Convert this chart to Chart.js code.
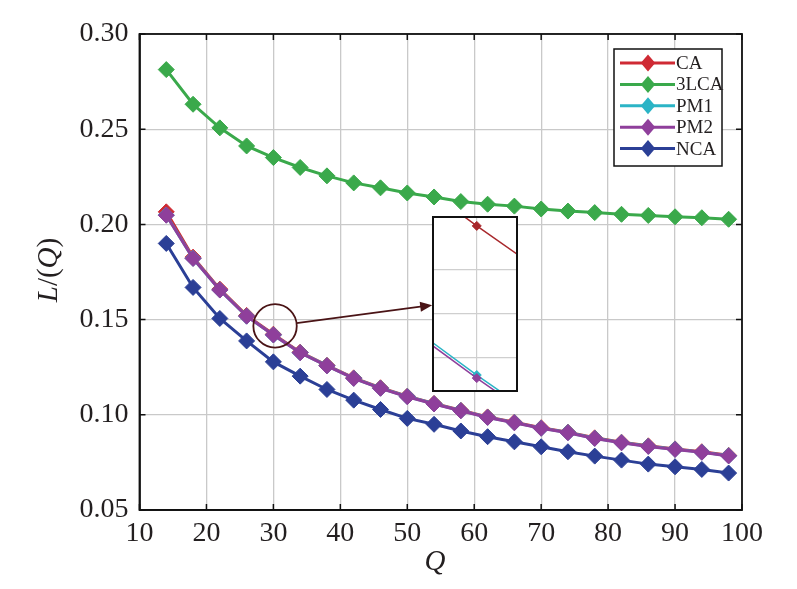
<!DOCTYPE html>
<html>
<head>
<meta charset="utf-8">
<script src="https://cdn.jsdelivr.net/npm/chart.js@4.4.1/dist/chart.umd.min.js"></script>
<style>
body { margin: 0; background: #fff; }
#contenedor { position: relative; width: 797px; height: 589px; }
#recuadro { position: absolute; left: 432px; top: 216px; width: 82px; height: 172px; border: 2px solid #111; background: #fff; }
</style>
</head>
<body>
<div id="contenedor">
  <canvas id="grafico" width="797" height="589"></canvas>
  <div id="recuadro"><canvas id="ampliacion" width="82" height="172"></canvas></div>
</div>
<script>
const valoresQ = [14, 18, 22, 26, 30, 34, 38, 42, 46, 50, 54, 58, 62, 66, 70, 74, 78, 82, 86, 90, 94, 98];
const nombresSeries = ['CA', '3LCA', 'PM1', 'PM2', 'NCA'];
const serieCA = [0.2066, 0.1828, 0.1660, 0.1522, 0.14230, 0.1329, 0.1260, 0.1194, 0.1142, 0.1098, 0.1060, 0.1024, 0.0989, 0.0961, 0.0932, 0.0909, 0.0879, 0.0856, 0.0837, 0.0821, 0.0806, 0.0787];
const serie3LCA = [0.2813, 0.2631, 0.2507, 0.2412, 0.2351, 0.2299, 0.2255, 0.2218, 0.2192, 0.2165, 0.2144, 0.2120, 0.2106, 0.2096, 0.2081, 0.2070, 0.2062, 0.2053, 0.2047, 0.2040, 0.2035, 0.2027];
const seriePM1 = [0.2049, 0.1822, 0.1656, 0.15181, 0.141961, 0.13261, 0.1258, 0.1192, 0.1140, 0.1096, 0.1058, 0.1022, 0.0987, 0.0959, 0.0930, 0.0907, 0.0877, 0.0854, 0.0835, 0.0819, 0.0804, 0.0785];
const seriePM2 = [0.2048, 0.1821, 0.1655, 0.15180, 0.141954, 0.13260, 0.1257, 0.1191, 0.1139, 0.1095, 0.1057, 0.1021, 0.0986, 0.0958, 0.0929, 0.0906, 0.0876, 0.0853, 0.0834, 0.0818, 0.0803, 0.0784];
const serieNCA = [0.1900, 0.1669, 0.1506, 0.1388, 0.1278, 0.1203, 0.1133, 0.1077, 0.1028, 0.0981, 0.0950, 0.0915, 0.0885, 0.0858, 0.0832, 0.0806, 0.0783, 0.0762, 0.0741, 0.0727, 0.0713, 0.0694];
const ticksX = [10, 20, 30, 40, 50, 60, 70, 80, 90, 100];
const ticksY = [0.05, 0.10, 0.15, 0.20, 0.25, 0.30];
// rejilla del recuadro ampliado alrededor de Q = 30
const ticksXAmpliado = [30];
const ticksYAmpliado = [0.1420, 0.1421, 0.1422];

const colores = ['#cf2a34', '#3aa94b', '#2bb4c6', '#8f3f9b', '#2b3f96'];
const ordenDibujo = [3, 4, 2, 0, 1];
const fuente = '"Liberation Serif", "Times New Roman", serif';

function armarPuntos(serie) {
    return valoresQ.map((q, i) => ({ x: q, y: serie[i] }));
}

function crearDatasets(grosor, radio) {
    let series = [serieCA, serie3LCA, seriePM1, seriePM2, serieNCA];
    return series.map((serie, i) => ({
        label: nombresSeries[i],
        data: armarPuntos(serie),
        borderColor: colores[i],
        backgroundColor: colores[i],
        borderWidth: grosor,
        pointStyle: 'rectRot',
        pointRadius: radio,
        pointBorderWidth: 1,
        pointBackgroundColor: colores[i],
        pointBorderColor: colores[i],
        order: ordenDibujo[i],
        tension: 0
    }));
}

function diamante(ctx, x, y, r, color) {
    ctx.beginPath();
    ctx.moveTo(x, y - r);
    ctx.lineTo(x + r * 0.85, y);
    ctx.lineTo(x, y + r);
    ctx.lineTo(x - r * 0.85, y);
    ctx.closePath();
    ctx.fillStyle = color;
    ctx.fill();
}

// marco, marcas hacia dentro, circulo con flecha, leyenda y titulos
const decoracion = {
    id: 'decoracion',
    afterDatasetsDraw(chart) {
        let ctx = chart.ctx;
        let sx = chart.scales.x, sy = chart.scales.y;
        ctx.save();
        let cx = sx.getPixelForValue(30.25), cy = sy.getPixelForValue(0.1467);
        let r = 21.7;
        ctx.strokeStyle = '#4a1416';
        ctx.lineWidth = 1.8;
        ctx.beginPath();
        ctx.arc(cx, cy, r, 0, Math.PI * 2);
        ctx.stroke();
        let fx = sx.getPixelForValue(53.72), fy = sy.getPixelForValue(0.1576);
        let ang = Math.atan2(fy - cy, fx - cx);
        ctx.beginPath();
        ctx.moveTo(cx + r * Math.cos(ang), cy + r * Math.sin(ang));
        ctx.lineTo(fx - 10 * Math.cos(ang), fy - 10 * Math.sin(ang));
        ctx.stroke();
        ctx.fillStyle = '#4a1416';
        ctx.beginPath();
        ctx.moveTo(fx, fy);
        ctx.lineTo(fx - 12 * Math.cos(ang) + 5 * Math.sin(ang), fy - 12 * Math.sin(ang) - 5 * Math.cos(ang));
        ctx.lineTo(fx - 12 * Math.cos(ang) - 5 * Math.sin(ang), fy - 12 * Math.sin(ang) + 5 * Math.cos(ang));
        ctx.closePath();
        ctx.fill();
        ctx.restore();
    },
    afterDraw(chart) {
        let ctx = chart.ctx;
        let area = chart.chartArea;
        let sx = chart.scales.x, sy = chart.scales.y;
        ctx.save();
        ctx.strokeStyle = '#111';
        ctx.lineWidth = 1.8;
        ctx.strokeRect(area.left, area.top, area.right - area.left, area.bottom - area.top);
        ctx.lineWidth = 1.5;
        ctx.beginPath();
        for (let t of ticksX) {
            let px = sx.getPixelForValue(t);
            ctx.moveTo(px, area.bottom); ctx.lineTo(px, area.bottom - 6);
            ctx.moveTo(px, area.top); ctx.lineTo(px, area.top + 6);
        }
        for (let t of ticksY) {
            let py = sy.getPixelForValue(t);
            ctx.moveTo(area.left, py); ctx.lineTo(area.left + 6, py);
            ctx.moveTo(area.right, py); ctx.lineTo(area.right - 6, py);
        }
        ctx.stroke();

        // leyenda
        ctx.fillStyle = '#fff';
        ctx.fillRect(614, 49, 108, 117);
        ctx.strokeStyle = '#111';
        ctx.lineWidth = 1.5;
        ctx.strokeRect(614, 49, 108, 117);
        ctx.font = '19px ' + fuente;
        ctx.textBaseline = 'middle';
        ctx.textAlign = 'left';
        for (let i = 0; i < nombresSeries.length; ++i) {
            let y = 63 + i * 21.4;
            ctx.strokeStyle = colores[i];
            ctx.lineWidth = 3;
            ctx.beginPath();
            ctx.moveTo(620, y); ctx.lineTo(675, y);
            ctx.stroke();
            diamante(ctx, 648, y, 8.5, colores[i]);
            ctx.fillStyle = '#231f20';
            ctx.fillText(nombresSeries[i], 676, y + 1);
        }

        // titulos de ejes
        ctx.fillStyle = '#231f20';
        ctx.textAlign = 'center';
        ctx.font = 'italic 29px ' + fuente;
        ctx.fillText('Q', 435, 562);

        let partes = [['L', 'italic '], ['/(', ''], ['Q', 'italic '], [')', '']];
        let anchos = partes.map(p => { ctx.font = p[1] + '29px ' + fuente; return ctx.measureText(p[0]).width; });
        let total = anchos.reduce((a, b) => a + b, 0);
        ctx.translate(49, 270);
        ctx.rotate(-Math.PI / 2);
        ctx.textAlign = 'left';
        let xo = -total / 2;
        partes.forEach((p, i) => {
            ctx.font = p[1] + '29px ' + fuente;
            ctx.fillText(p[0], xo, 0);
            xo += anchos[i];
        });
        ctx.restore();
    }
};

function crearGrafico() {
    let ctx = document.getElementById('grafico').getContext('2d');
    new Chart(ctx, {
        type: 'line',
        data: { datasets: crearDatasets(3, 8) },
        options: {
            responsive: false,
            animation: false,
            layout: { padding: { left: 0, right: 55, top: 34, bottom: 0 } },
            plugins: { legend: { display: false }, tooltip: { enabled: false } },
            scales: {
                x: {
                    type: 'linear', min: 10, max: 100,
                    afterBuildTicks: s => { s.ticks = ticksX.map(v => ({ value: v })); },
                    afterFit: s => { s.height = 79; },
                    ticks: { font: { family: fuente, size: 28 }, color: '#231f20', padding: 7, maxRotation: 0 },
                    grid: { color: '#c9c9c9', lineWidth: 1.3, drawTicks: false },
                    border: { display: true, color: '#111', width: 1.8 }
                },
                y: {
                    type: 'linear', min: 0.05, max: 0.30,
                    afterBuildTicks: s => { s.ticks = ticksY.map(v => ({ value: v })); },
                    afterFit: s => { s.width = 139.5; },
                    ticks: { font: { family: fuente, size: 28 }, color: '#231f20', padding: 11, callback: v => v.toFixed(2) },
                    grid: { color: '#c9c9c9', lineWidth: 1.3, drawTicks: false },
                    border: { display: true, color: '#111', width: 1.8 }
                }
            }
        },
        plugins: [decoracion]
    });
}

function crearAmpliacion() {
    let ctx = document.getElementById('ampliacion').getContext('2d');
    let datasets = crearDatasets(1.5, 4.5).filter(d => d.label != '3LCA' && d.label != 'NCA');
    datasets[0].borderColor = '#a8282c';
    datasets[0].pointBackgroundColor = '#a8282c';
    datasets[0].pointBorderColor = '#a8282c';
    new Chart(ctx, {
        type: 'line',
        data: { datasets: datasets },
        options: {
            responsive: false,
            animation: false,
            layout: { padding: 0, autoPadding: false },
            plugins: { legend: { display: false }, tooltip: { enabled: false } },
            scales: {
                x: {
                    type: 'linear', min: 29.971, max: 30.0266,
                    afterBuildTicks: s => { s.ticks = ticksXAmpliado.map(v => ({ value: v })); },
                    afterFit: s => { s.height = 0; },
                    ticks: { display: false },
                    grid: { color: '#cfcfcf', lineWidth: 1.2, drawTicks: false },
                    border: { display: false }
                },
                y: {
                    type: 'linear', min: 0.141927, max: 0.142318,
                    afterBuildTicks: s => { s.ticks = ticksYAmpliado.map(v => ({ value: v })); },
                    afterFit: s => { s.width = 0; },
                    ticks: { display: false },
                    grid: { color: '#cfcfcf', lineWidth: 1.2, drawTicks: false },
                    border: { display: false }
                }
            }
        }
    });
}

crearGrafico();
crearAmpliacion();
</script>
</body>
</html>
